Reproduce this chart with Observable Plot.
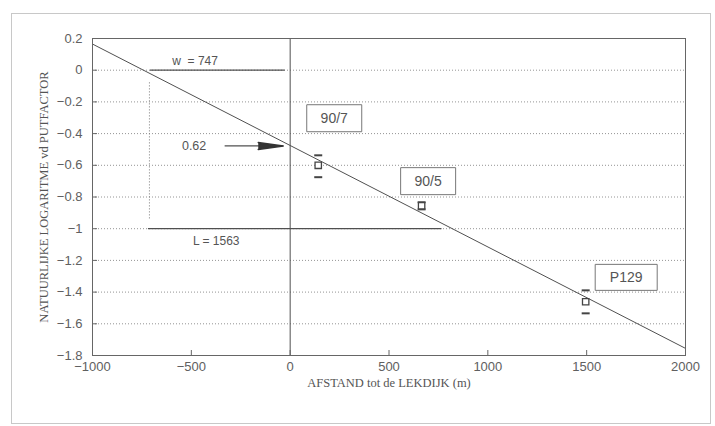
<!DOCTYPE html>
<html>
<head>
<meta charset="utf-8">
<script src="https://cdn.jsdelivr.net/npm/d3@7"></script>
<script src="https://cdn.jsdelivr.net/npm/@observablehq/plot@0.6"></script>
<style>
  html, body { margin: 0; padding: 0; background: #fff; }
  #wrap { position: relative; width: 715px; height: 426px; }
  #wrap svg { display: block; }
  #page { position: absolute; left: 11px; top: 13px; width: 700px; height: 411px; border: 1px solid #c8c8c8; box-sizing: border-box; pointer-events: none; }
</style>
</head>
<body>
<div id="wrap"><div id="page"></div></div>
<script>
// ---- data ----
const xTicks = [-1000, -500, 0, 500, 1000, 1500, 2000];
const yTicks = [0.2, 0, -0.2, -0.4, -0.6, -0.8, -1, -1.2, -1.4, -1.6, -1.8];
const gridY = [-0.2, -0.4, -0.6, -0.8, -1.2, -1.4, -1.6];
const fitLine = [{x: -1000, y: 0.165}, {x: 2000, y: -1.755}];
const wells = ["90/7", "90/5", "P129"];
const wellX = [142, 665, 1495];
const wellMean = [-0.600, -0.855, -1.461];
const wellHi = [-0.537, -0.833, -1.389];
const wellLo = [-0.675, -0.878, -1.534];
const labelX = [223, 698, 1700];
const labelY = [-0.303, -0.70, -1.307];
const wSeg = {y: 0, x1: -707, x2: -25};
const lSeg = {y: -1, x1: -717, x2: 768};
const vSeg = {x: -712, y1: -0.08, y2: -0.94};
const arrow = {y: -0.478, x1: -329, x2: -35, text: "0.62", tx: -486};
const notes = [
  {x: -481, y: 0.057, text: "w\u00a0\u00a0=\u00a0747"},
  {x: -374, y: -1.08, text: "L = 1563"}
];
const xTitle = "AFSTAND tot de LEKDIJK (m)";
const yTitle = "NATUURLIJKE LOGARITME vd PUTFACTOR";

const points = wells.map((name, i) => ({name, x: wellX[i], mean: wellMean[i], hi: wellHi[i], lo: wellLo[i], lx: labelX[i], ly: labelY[i]}));
const fmt = d => (d < 0 ? "\u2212" + Math.abs(d) : String(d));
const bar = {draw(ctx) { const r = 4; ctx.moveTo(-r, 0); ctx.lineTo(r, 0); }};
const boxSym = (w, h) => ({draw(ctx) { ctx.rect(-w / 2, -h / 2, w, h); }});

const ink = "#505050";
const plot = Plot.plot({
  width: 715,
  height: 426,
  marginLeft: 92,
  marginRight: 30,
  marginTop: 38,
  marginBottom: 71,
  style: {fontFamily: "'Liberation Sans', Arial, sans-serif", fontSize: "13px", color: "#606060", background: "transparent"},
  x: {domain: [-1000, 2000]},
  y: {domain: [-1.8, 0.2]},
  marks: [
    Plot.ruleY(gridY, {stroke: "#888", strokeDasharray: "1,2", strokeWidth: 0.9}),
    Plot.ruleY([0, -1], {x1: -1000, x2: 2000, stroke: "#888", strokeDasharray: "1,2", strokeWidth: 0.9}),
    Plot.ruleX([0], {stroke: ink, strokeWidth: 1}),
    Plot.ruleY([wSeg], {y: "y", x1: "x1", x2: "x2", stroke: ink, strokeWidth: 1.3}),
    Plot.ruleY([lSeg], {y: "y", x1: "x1", x2: "x2", stroke: ink, strokeWidth: 1.3}),
    Plot.ruleX([vSeg], {x: "x", y1: "y1", y2: "y2", stroke: "#777", strokeDasharray: "1,2", strokeWidth: 1}),
    Plot.line(fitLine, {x: "x", y: "y", stroke: ink, strokeWidth: 1}),
    Plot.frame({stroke: "#666", strokeWidth: 1}),
    Plot.tickX(xTicks.slice(1, -1), {x: d => d, insetTop: 312, stroke: "#666"}),
    Plot.tickY(yTicks, {y: d => d, insetRight: 588, stroke: "#666"}),
    Plot.axisX({ticks: xTicks, tickSize: 0, tickPadding: 6, tickFormat: fmt, label: null, fill: "#606060", fontSize: 13}),
    Plot.axisY({ticks: yTicks, tickSize: 0, tickPadding: 10, tickFormat: fmt, label: null, fill: "#606060", fontSize: 13}),
    Plot.text([xTitle], {frameAnchor: "bottom", dy: 31, text: d => d, fontFamily: "'Liberation Serif', 'Times New Roman', serif", fontSize: 12.5, fill: "#555"}),
    Plot.text([yTitle], {frameAnchor: "left", textAnchor: "middle", dx: -49, rotate: -90, text: d => d, fontFamily: "'Liberation Serif', 'Times New Roman', serif", fontSize: 12.5, fill: "#555"}),
    // arrow 0.62
    Plot.ruleY([arrow], {y: "y", x1: "x1", x2: "x2", stroke: ink, strokeWidth: 1.2}),
    Plot.vector([arrow], {x: "x2", y: "y", length: 25, rotate: 90, anchor: "end", shape: "spike", r: 3.5, fill: "#333", stroke: "#333"}),
    Plot.text([arrow], {x: "tx", y: "y", text: "text", fontSize: 12.5, fill: "#555"}),
    Plot.text(notes, {x: "x", y: "y", text: "text", fontSize: 12, fill: "#555"}),
    // observations
    Plot.dot(points, {x: "x", y: "hi", symbol: bar, r: 4, stroke: "#444", strokeWidth: 2}),
    Plot.dot(points, {x: "x", y: "lo", symbol: bar, r: 4, stroke: "#444", strokeWidth: 2}),
    Plot.dot(points, {x: "x", y: "mean", symbol: "square", r: 3.6, stroke: "#444", fill: "white", strokeWidth: 1.3}),
    // label boxes
    Plot.dot(points, {filter: d => d.name !== "P129", x: "lx", y: "ly", symbol: boxSym(55, 27), r: 4, stroke: "#777", fill: "white", strokeWidth: 1}),
    Plot.dot(points, {filter: d => d.name === "P129", x: "lx", y: "ly", symbol: boxSym(62, 26), r: 4, stroke: "#777", fill: "white", strokeWidth: 1}),
    Plot.text(points, {x: "lx", y: "ly", text: "name", fontSize: 14, fill: "#555"})
  ]
});
document.getElementById("wrap").prepend(plot);
</script>
</body>
</html>
